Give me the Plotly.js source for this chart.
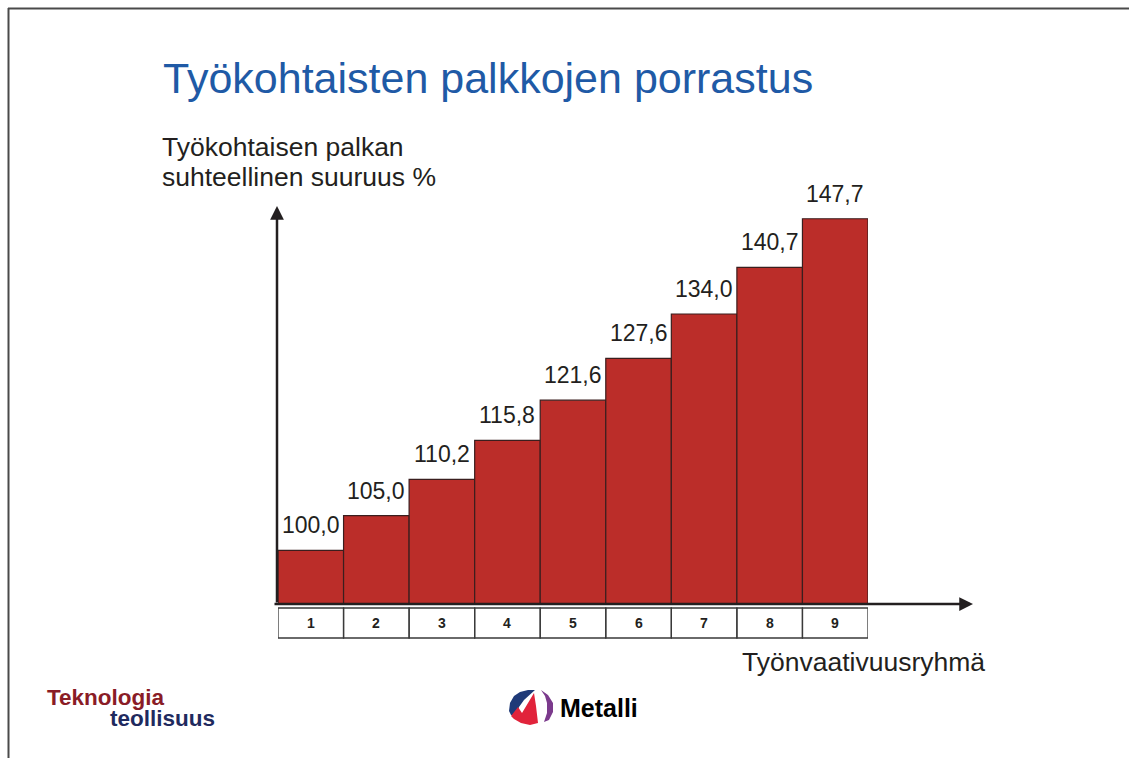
<!DOCTYPE html>
<html>
<head>
<meta charset="utf-8">
<script src="https://cdn.plot.ly/plotly-3.0.1.min.js"></script>
<style>html,body{margin:0;padding:0;background:#fff;}#chart{width:1129px;height:758px;}</style>
</head>
<body>
<div id="chart"></div>
<script>
// ---- data ----
const groups = [1, 2, 3, 4, 5, 6, 7, 8, 9];
const groupLabels = ['1', '2', '3', '4', '5', '6', '7', '8', '9'];
const wageIndex = [100.0, 105.0, 110.2, 115.8, 121.6, 127.6, 134.0, 140.7, 147.7];
const valueLabels = wageIndex.map(v => v.toFixed(1).replace('.', ','));
const titleText = 'Työkohtaisten palkkojen porrastus';
const yTitleLines = ['Työkohtaisen palkan', 'suhteellinen suuruus %'];
const xTitleText = 'Työnvaativuusryhmä';

// ---- geometry (plot area in pixels) ----
const L = 278, R = 868, T = 207, B = 604;
const W = R - L, H = B - T;
const px = x => (x - L) / W;
const py = y => (B - y) / H;
const FONT = 'Liberation Sans, Arial, sans-serif';
const INK = '#231f20';

const trace = {
  type: 'bar',
  x: groups,
  y: wageIndex,
  width: 1,
  marker: {color: '#bb2d29', line: {color: '#3a1e1e', width: 1.2}},
  hoverinfo: 'skip'
};

const shapes = [];
// slide frame
shapes.push({type: 'line', xref: 'paper', yref: 'paper', x0: px(8), x1: px(1135), y0: py(8.5), y1: py(8.5), line: {color: '#4a4a4a', width: 2}});
shapes.push({type: 'line', xref: 'paper', yref: 'paper', x0: px(8.5), x1: px(8.5), y0: py(8), y1: py(770), line: {color: '#4a4a4a', width: 2}});
// category boxes below the axis
groups.forEach(g => {
  shapes.push({type: 'rect', xref: 'x', yref: 'paper', x0: g - 0.5, x1: g + 0.5, y0: py(608), y1: py(638),
    line: {color: '#3a3a3a', width: 1.3}, fillcolor: 'rgba(0,0,0,0)'});
});
// Metalli logo mark
function pathFrom(pts) {
  return 'M ' + pts.map(p => px(p[0]).toFixed(5) + ',' + py(p[1]).toFixed(5)).join(' L ') + ' Z';
}
shapes.push({type: 'path', xref: 'paper', yref: 'paper', path: pathFrom([[509,711],[510,703],[514,696],[520,692],[528,690],[535,690],[524,700],[519,707],[516,716],[511,715]]), fillcolor: '#1f3a78', line: {width: 0}});
shapes.push({type: 'path', xref: 'paper', yref: 'paper', path: pathFrom([[511,716],[518,707],[522,713],[534,693],[536,706],[538,723],[530,725],[521,723],[514,719]]), fillcolor: '#e1233b', line: {width: 0}});
shapes.push({type: 'path', xref: 'paper', yref: 'paper', path: pathFrom([[541,690],[548,695],[553,703],[553,712],[549,720],[544,722],[547,713],[547,703],[545,696]]), fillcolor: '#7b3a8c', line: {width: 0}});

const annotations = [];
// value labels
groups.forEach((g, i) => {
  annotations.push({x: g, y: wageIndex[i], xref: 'x', yref: 'y', text: valueLabels[i], showarrow: false,
    yanchor: 'bottom', yshift: 10, font: {family: FONT, size: 23, color: INK}});
});
// category labels inside the boxes
groups.forEach((g, i) => {
  annotations.push({x: g, y: py(623), xref: 'x', yref: 'paper', text: '<b>' + groupLabels[i] + '</b>', showarrow: false,
    xanchor: 'center', yanchor: 'middle', font: {family: FONT, size: 14, color: INK}});
});
// axis arrows
annotations.push({xref: 'paper', yref: 'paper', x: px(277), y: py(206), ax: 0, ay: B - 206, text: '', showarrow: true,
  arrowhead: 2, arrowsize: 1.1, arrowwidth: 2.5, arrowcolor: INK, standoff: 0, startstandoff: 0});
annotations.push({xref: 'paper', yref: 'paper', x: px(973), y: py(604), ax: -(973 - 273), ay: 0, text: '', showarrow: true,
  arrowhead: 2, arrowsize: 1.1, arrowwidth: 2.5, arrowcolor: INK, standoff: 0, startstandoff: 0});
// axis titles
annotations.push({xref: 'paper', yref: 'paper', x: px(160), y: py(147), xanchor: 'left', yanchor: 'middle', text: yTitleLines[0], showarrow: false,
  font: {family: FONT, size: 26.5, color: INK}});
annotations.push({xref: 'paper', yref: 'paper', x: px(160), y: py(177), xanchor: 'left', yanchor: 'middle', text: yTitleLines[1], showarrow: false,
  font: {family: FONT, size: 26.5, color: INK}});
annotations.push({xref: 'paper', yref: 'paper', x: px(987), y: py(662), xanchor: 'right', yanchor: 'middle', text: xTitleText, showarrow: false,
  font: {family: FONT, size: 26.5, color: INK}});
// logos
annotations.push({xref: 'paper', yref: 'paper', x: px(45), y: py(697), xanchor: 'left', yanchor: 'middle', text: '<b>Teknologia</b>', showarrow: false,
  font: {family: FONT, size: 22.5, color: '#8a1c26'}});
annotations.push({xref: 'paper', yref: 'paper', x: px(108), y: py(718), xanchor: 'left', yanchor: 'middle', text: '<b>teollisuus</b>', showarrow: false,
  font: {family: FONT, size: 22.5, color: '#1f2a5e'}});
annotations.push({xref: 'paper', yref: 'paper', x: px(558), y: py(708), xanchor: 'left', yanchor: 'middle', text: '<b>Metalli</b>', showarrow: false,
  font: {family: FONT, size: 25, color: '#000000'}});

const layout = {
  width: 1129, height: 758,
  margin: {l: L, r: 1129 - R, t: T, b: 758 - B, pad: 0},
  paper_bgcolor: '#ffffff', plot_bgcolor: '#ffffff',
  showlegend: false,
  bargap: 0,
  title: {text: titleText, xref: 'container', yref: 'container', x: 163 / 1129, xanchor: 'left', y: 1 - 78 / 758, yanchor: 'middle',
    font: {family: FONT, size: 43, color: '#1f5aa6'}},
  xaxis: {range: [0.5, 9.5], showticklabels: false, ticks: '', showgrid: false, zeroline: false, showline: false, fixedrange: true},
  yaxis: {range: [92.27, 92.27 + H / 6.95], visible: false, showgrid: false, zeroline: false, fixedrange: true},
  shapes: shapes,
  annotations: annotations
};

Plotly.newPlot('chart', [trace], layout, {displayModeBar: false, staticPlot: true});
</script>
</body>
</html>
